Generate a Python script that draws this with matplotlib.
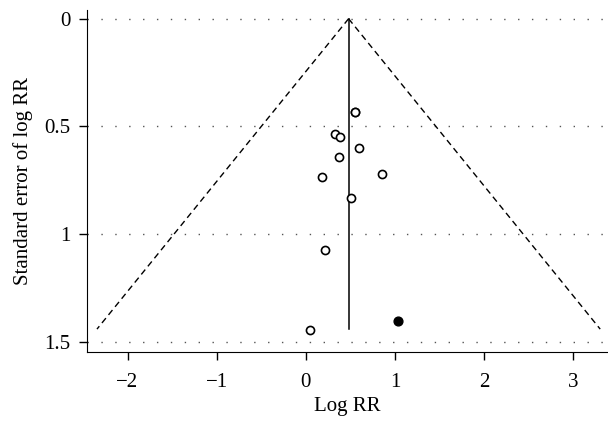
import numpy as np
import matplotlib.pyplot as plt

plt.rcParams['font.family'] = ['Liberation Serif', 'DejaVu Serif']

# study estimates
log_rr = [0.553, 0.557, 0.322, 0.385, 0.598, 0.370, 0.183, 0.852, 0.512, 0.221, 0.052]
se_log_rr = [0.433, 0.431, 0.537, 0.548, 0.600, 0.640, 0.733, 0.722, 0.832, 1.072, 1.443]
filled_rr = [1.035]
filled_se = [1.401]

pooled = 0.48
se_max = 1.44
xticks = [-2, -1, 0, 1, 2, 3]
yticks = [0, 0.5, 1, 1.5]
yticklabels = ['0', '0.5', '1', '1.5']

fig = plt.figure(figsize=(6.08, 4.21), dpi=100)
ax = fig.add_axes([0.143, 0.164, 0.857, 0.812])

for t in yticks:
    ax.axhline(t, color='#555555', linestyle=(0, (1, 9)), linewidth=1.0, zorder=0)

se = np.array([0, se_max])
ax.plot(pooled - 1.96 * se, se, color='black', linestyle=(0, (4.5, 3)), linewidth=1.0)
ax.plot(pooled + 1.96 * se, se, color='black', linestyle=(0, (4.5, 3)), linewidth=1.0)
ax.plot([pooled, pooled], se, color='black', linewidth=1.1)

ax.scatter(log_rr, se_log_rr, s=34, facecolors='white', edgecolors='black',
           linewidths=1.2, zorder=3)
ax.scatter(filled_rr, filled_se, s=40, color='black', zorder=3)

ax.set_xlim(-2.455, 3.39)
ax.set_ylim(1.546, -0.04)
ax.set_xticks(xticks)
ax.set_xticklabels(['\u2212' + str(-t) if t < 0 else str(t) for t in xticks])
ax.set_yticks(yticks)
ax.set_yticklabels(yticklabels)
ax.tick_params(labelsize=15, length=6, width=1, pad=6)
ax.tick_params(axis='x', pad=9)
ax.spines['top'].set_visible(False)
ax.spines['right'].set_visible(False)
ax.set_xlabel('Log RR', fontsize=15, labelpad=4)
ax.set_ylabel('Standard error of log RR', fontsize=15, labelpad=8)

fig.savefig('out.png', dpi=100)
